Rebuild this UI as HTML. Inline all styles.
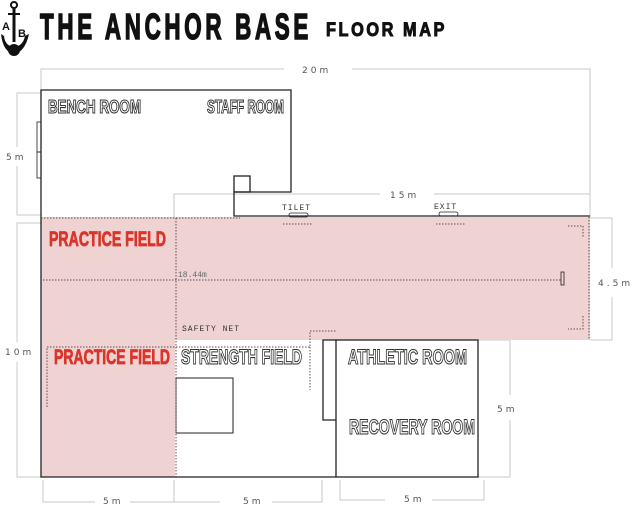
<!DOCTYPE html>
<html><head><meta charset="utf-8"><style>
html,body{margin:0;padding:0;background:#fff;}
svg{display:block;}
.o{font-family:"Liberation Sans Narrow","Liberation Sans",sans-serif;font-weight:bold;fill:#fff;stroke:#333;stroke-width:1.1;}
.r{font-family:"Liberation Sans Narrow","Liberation Sans",sans-serif;font-weight:bold;fill:#d9352b;stroke:#d9352b;stroke-width:0.8;}
.d{font-family:"DejaVu Sans","Liberation Sans",sans-serif;font-size:9px;fill:#555;letter-spacing:3px;}
.m{font-family:"Liberation Mono",monospace;font-size:8px;fill:#333;letter-spacing:1px;}
</style></head><body>
<svg width="640" height="507" viewBox="0 0 640 507" xmlns="http://www.w3.org/2000/svg">
<!-- logo -->
<circle cx="14" cy="5" r="3" fill="none" stroke="#111" stroke-width="2"/>
<line x1="14" y1="8" x2="14" y2="42" stroke="#111" stroke-width="3"/>
<line x1="8" y1="14" x2="20" y2="14" stroke="#111" stroke-width="2"/>
<path d="M1 34 Q3 52 14 54 Q25 52 29 34 L25 36 Q23 46 14 47 Q5 46 4 36 Z" fill="#111"/>
<circle cx="14" cy="50" r="6" fill="#111"/>
<text x="2" y="30" font-family="Liberation Sans" font-weight="bold" font-size="11" fill="#111">A</text>
<text x="18" y="37" font-family="Liberation Sans" font-weight="bold" font-size="11" fill="#111">B</text>
<!-- title -->
<text x="40" y="39" font-family="Liberation Sans Narrow,Liberation Sans,sans-serif" font-weight="bold" font-size="36" fill="#111" stroke="#111" stroke-width="1.6" letter-spacing="6" textLength="272" lengthAdjust="spacingAndGlyphs">THE ANCHOR BASE</text>
<text x="326" y="36" font-family="Liberation Sans,sans-serif" font-weight="bold" font-size="19" fill="#111" stroke="#111" stroke-width="1" letter-spacing="3" textLength="121" lengthAdjust="spacingAndGlyphs">FLOOR MAP</text>

<!-- dimension lines -->
<g stroke="#c8c8c8" stroke-width="1" fill="none">
<path d="M41 90 V69 H284 M352 69 H590 V217"/>
<path d="M41 93 H17 V147 M17 166 V215 H41"/>
<path d="M41 223 H17 V342 M17 362 V477 H41"/>
<path d="M174 220 V194 H380 M434 194 H590"/>
<path d="M590 218 H612 V268 M612 297 V340 H590"/>
<path d="M478 340 H510 V395 M510 420 V477 H478"/>
<path d="M43 480 V502 H95 M130 502 H174 V480"/>
<path d="M174 502 H220 M272 502 H322 V480"/>
<path d="M340 480 V500 H385 M432 500 H484 V480"/>
</g>
<g class="d">
<text x="302" y="73">20m</text>
<text x="390" y="198">15m</text>
<text x="6" y="160">5m</text>
<text x="5" y="355">10m</text>
<text x="598" y="286">4.5m</text>
<text x="497" y="412">5m</text>
<text x="103" y="504">5m</text>
<text x="243" y="504">5m</text>
<text x="404" y="502">5m</text>
</g>

<!-- pink areas -->
<rect x="41" y="217" width="549" height="123" fill="#efd3d3"/>
<rect x="41" y="340" width="134" height="137" fill="#efd3d3"/>

<!-- walls -->
<g stroke="#222" stroke-width="1.3" fill="none">
<path d="M41 217 V90 H291 V192 H234 V216 H590"/>
<rect x="234" y="176" width="16" height="16"/>
<path d="M41 217 V477 H336"/>
<rect x="336" y="340" width="142" height="137"/>
<path d="M336 340 H323 V420 H336"/>
<rect x="176" y="378" width="57" height="55" stroke-width="1"/>
<rect x="37" y="122" width="4" height="30" stroke-width="0.8"/>
<rect x="37" y="152" width="4" height="26" stroke-width="0.8"/>
<rect x="289" y="213" width="19" height="4" rx="2" stroke-width="0.8"/>
<rect x="439" y="212" width="19" height="4" rx="2" stroke-width="0.8"/>
<rect x="561" y="272" width="3" height="13" stroke-width="0.8"/>
</g>

<!-- dotted -->
<g stroke="#6a4a4a" stroke-width="1" stroke-dasharray="1.5,1.5" fill="none">
<path d="M41 218 H240"/>
<path d="M176 218 V477"/>
<path d="M43 280 H561"/>
<path d="M47 407 V347 H310 V331 H336 M310 347 V390"/>
<path d="M283 224 H312 M436 224 H466"/>
<path d="M568 226 H583 V238 M583 316 V329 H568"/>
<path d="M589 217 V340"/>
</g>

<!-- labels -->
<text class="m" x="282" y="210">TILET</text>
<text class="m" x="434" y="209">EXIT</text>
<text class="m" x="182" y="331">SAFETY NET</text>
<text x="178" y="277" font-family="Liberation Mono,monospace" font-size="8" fill="#666">18.44m</text>

<text class="o" x="48" y="113" font-size="18" textLength="93" lengthAdjust="spacingAndGlyphs">BENCH ROOM</text>
<text class="o" x="207" y="113" font-size="18" textLength="77" lengthAdjust="spacingAndGlyphs">STAFF ROOM</text>
<text class="r" x="49" y="246" font-size="21" textLength="117" lengthAdjust="spacingAndGlyphs">PRACTICE FIELD</text>
<text class="r" x="54" y="364" font-size="21" textLength="116" lengthAdjust="spacingAndGlyphs">PRACTICE FIELD</text>
<text class="o" x="181" y="364" font-size="21" textLength="121" lengthAdjust="spacingAndGlyphs">STRENGTH FIELD</text>
<text class="o" x="348" y="364" font-size="21" textLength="119" lengthAdjust="spacingAndGlyphs">ATHLETIC ROOM</text>
<text class="o" x="349" y="434" font-size="21" textLength="126" lengthAdjust="spacingAndGlyphs">RECOVERY ROOM</text>
</svg>
</body></html>
